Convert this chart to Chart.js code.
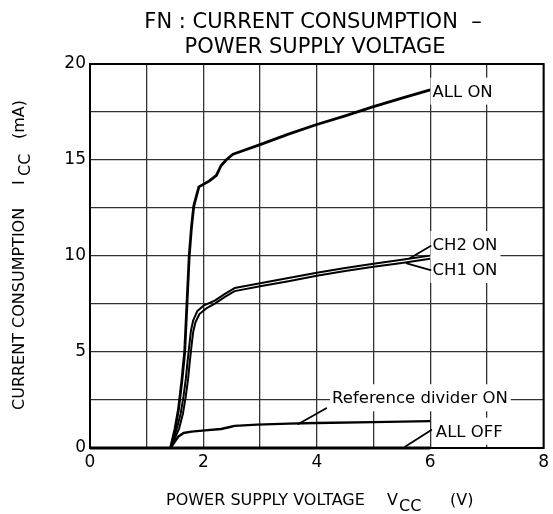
<!DOCTYPE html>
<html><head><meta charset="utf-8">
<script src="https://cdn.jsdelivr.net/npm/chart.js@4.4.0/dist/chart.umd.min.js"></script>
<style>html,body{margin:0;padding:0;background:#fff;overflow:hidden}canvas{display:block}</style>
</head><body>
<canvas id="c" width="553" height="514"></canvas>
<script>
// ---- data ----
const allOnV = [1.42, 1.50, 1.56, 1.62, 1.67, 1.71, 1.75, 1.79, 1.83, 1.92, 2.10, 2.23, 2.31, 2.40, 2.52, 3.00, 3.50, 4.00, 4.50, 5.00, 5.50, 6.00];
const allOnI = [0, 1.0, 2.0, 3.5, 5.0, 7.5, 10.0, 11.5, 12.6, 13.6, 13.9, 14.2, 14.7, 15.0, 15.3, 15.8, 16.35, 16.85, 17.3, 17.78, 18.22, 18.65];

const ch2V = [1.42, 1.53, 1.60, 1.65, 1.69, 1.72, 1.75, 1.78, 1.82, 1.89, 2.01, 2.20, 2.38, 2.55, 3.00, 3.50, 4.00, 4.50, 5.00, 5.50, 6.00];
const ch2I = [0, 1.0, 1.8, 2.7, 3.6, 4.5, 5.3, 6.1, 6.65, 7.12, 7.43, 7.68, 8.03, 8.33, 8.58, 8.85, 9.13, 9.38, 9.6, 9.8, 10.02];

const ch1V = [1.42, 1.57, 1.64, 1.69, 1.73, 1.76, 1.79, 1.82, 1.86, 1.93, 2.05, 2.20, 2.38, 2.55, 3.00, 3.50, 4.00, 4.50, 5.00, 5.50, 6.00];
const ch1I = [0, 1.0, 1.8, 2.7, 3.6, 4.5, 5.3, 6.05, 6.55, 6.98, 7.27, 7.52, 7.87, 8.17, 8.42, 8.69, 8.97, 9.22, 9.44, 9.64, 9.86];

const refV = [1.42, 1.50, 1.56, 1.65, 1.79, 2.03, 2.31, 2.45, 2.55, 2.95, 3.50, 4.00, 5.00, 6.00];
const refI = [0, 0.35, 0.6, 0.78, 0.85, 0.92, 0.99, 1.08, 1.15, 1.22, 1.27, 1.3, 1.35, 1.4];

const allOffV = [0, 6.0];
const allOffI = [0, 0];

const xTickValues = [0, 2, 4, 6, 8];
const yTickValues = [0, 5, 10, 15, 20];

const titleLines = ['FN : CURRENT CONSUMPTION  \u2013', 'POWER SUPPLY VOLTAGE'];

// annotations: label text + anchor (data units), leader lines (data units)
const labelTexts = ['ALL ON', 'CH2 ON', 'CH1 ON', 'Reference divider ON', 'ALL OFF'];
const labelX = [6.04, 6.04, 6.04, 4.27, 6.10];
const labelY = [18.3, 10.31, 9.01, 2.33, 0.59];
const leaders = [
  [6.007, 10.52, 5.64, 9.88],
  [6.007, 9.27, 5.585, 9.62],
  [4.167, 2.07, 3.675, 1.25],
  [6.02, 0.94, 5.556, 0.07]
];

const FONT = '"DejaVu Sans", sans-serif';
const pts = (xs, ys) => xs.map((x, i) => ({x, y: ys[i]}));

const deco = {
  id: 'deco',
  beforeDatasetsDraw(chart) {
    const {ctx, chartArea: a} = chart;
    ctx.save();
    ctx.strokeStyle = '#000';
    ctx.lineWidth = 2;
    ctx.strokeRect(a.left, a.top, a.right - a.left, a.bottom - a.top);
    ctx.restore();
  },
  afterDatasetsDraw(chart) {
    const {ctx} = chart;
    const xs = chart.scales.x, ys = chart.scales.y;
    ctx.save();
    ctx.font = '16.5px ' + FONT;
    ctx.textBaseline = 'alphabetic';
    ctx.textAlign = 'left';
    labelTexts.forEach((t, i) => {
      const px = xs.getPixelForValue(labelX[i]);
      const py = ys.getPixelForValue(labelY[i]);
      const w = ctx.measureText(t).width;
      ctx.fillStyle = '#fff';
      ctx.fillRect(px - 2, py - 19, w + 5, 27);
    });
    ctx.strokeStyle = '#000';
    ctx.lineWidth = 1.8;
    ctx.lineCap = 'round';
    leaders.forEach(l => {
      ctx.beginPath();
      ctx.moveTo(xs.getPixelForValue(l[0]), ys.getPixelForValue(l[1]));
      ctx.lineTo(xs.getPixelForValue(l[2]), ys.getPixelForValue(l[3]));
      ctx.stroke();
    });
    ctx.fillStyle = '#000';
    labelTexts.forEach((t, i) => {
      ctx.fillText(t, xs.getPixelForValue(labelX[i]), ys.getPixelForValue(labelY[i]));
    });
    ctx.restore();
  },
  afterDraw(chart) {
    const {ctx} = chart;
    ctx.save();
    ctx.fillStyle = '#000';
    // main title
    ctx.font = '21px ' + FONT;
    ctx.textAlign = 'center';
    ctx.textBaseline = 'alphabetic';
    ctx.fillText(titleLines[0], 313, 28);
    ctx.fillText(titleLines[1], 315, 53);
    // x axis title
    ctx.textAlign = 'left';
    ctx.font = '16px ' + FONT;
    ctx.fillText('POWER SUPPLY VOLTAGE', 166, 505);
    ctx.fillText('V', 387, 505);
    ctx.fillText('(V)', 450, 505);
    ctx.font = '16px ' + FONT;
    ctx.fillText('CC', 399, 511);
    // y axis title (rotated)
    ctx.translate(24, 0);
    ctx.rotate(-Math.PI / 2);
    ctx.font = '16px ' + FONT;
    ctx.fillText('CURRENT CONSUMPTION', -410, 0);
    ctx.fillText('I', -185, 0);
    const wm = ctx.measureText('(mA)').width;
    ctx.fillText('(mA)', -100 - wm, 0);
    ctx.font = '16px ' + FONT;
    ctx.fillText('CC', -176, 6);
    ctx.restore();
  }
};

new Chart(document.getElementById('c'), {
  type: 'line',
  data: {
    datasets: [
      {label: 'ALL ON', data: pts(allOnV, allOnI), borderWidth: 2.8},
      {label: 'CH2 ON', data: pts(ch2V, ch2I), borderWidth: 2},
      {label: 'CH1 ON', data: pts(ch1V, ch1I), borderWidth: 2},
      {label: 'Reference divider ON', data: pts(refV, refI), borderWidth: 2.4},
      {label: 'ALL OFF', data: pts(allOffV, allOffI), borderWidth: 3, clip: false}
    ].map(d => Object.assign({borderColor: '#000', backgroundColor: '#000', pointRadius: 0, tension: 0, fill: false, borderJoinStyle: 'round'}, d))
  },
  options: {
    responsive: false,
    devicePixelRatio: 1,
    animation: false,
    events: [],
    layout: {padding: {top: 64, right: 2, left: 0, bottom: 0}, autoPadding: false},
    plugins: {legend: {display: false}, tooltip: {enabled: false}, title: {display: false}},
    scales: {
      x: {
        type: 'linear', min: 0, max: 8,
        afterFit: s => { s.height = 66; },
        ticks: {stepSize: 1, autoSkip: false, maxRotation: 0, color: '#000', font: {family: FONT, size: 17}, padding: 4,
          callback: v => xTickValues.includes(v) ? String(v) : ''},
        grid: {color: '#333', lineWidth: 1.3, drawTicks: false},
        border: {display: true, color: '#000', width: 2}
      },
      y: {
        type: 'linear', min: 0, max: 20,
        afterFit: s => { s.width = 90; },
        ticks: {stepSize: 2.5, autoSkip: false, color: '#000', font: {family: FONT, size: 17}, padding: 4,
          callback: v => yTickValues.includes(v) ? String(v) : ''},
        grid: {color: '#333', lineWidth: 1.3, drawTicks: false},
        border: {display: true, color: '#000', width: 2}
      }
    }
  },
  plugins: [deco]
});
</script>
</body></html>
